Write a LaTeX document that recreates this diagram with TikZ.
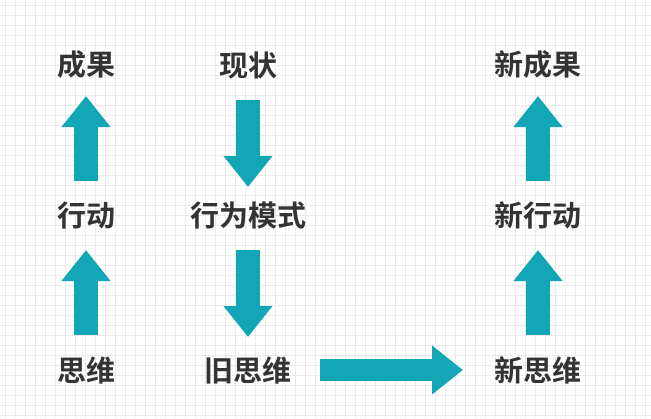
\documentclass[tikz,border=0pt]{standalone}
\usepackage{fontspec}
\newfontfamily\cjk{Noto Sans CJK SC}[BoldFont={Noto Sans CJK SC Bold}]
\usetikzlibrary{arrows.meta}
\definecolor{teal1}{HTML}{12A6B6}
\definecolor{txt}{HTML}{333333}
\definecolor{gridc}{HTML}{EAEAEA}
\tikzset{lbl/.style={font=\cjk\bfseries\fontsize{29}{29}\selectfont, text=txt, inner sep=0pt},
 bigarrow/.style={draw=teal1, line width=24pt, -{Triangle[width=47pt,length=31pt]}}}
\begin{document}
\begin{tikzpicture}[x=1pt,y=-1pt]
\useasboundingbox (0,0) rectangle (651,418);
\fill[white] (0,0) rectangle (651,418);
\foreach \i in {0,10,...,650} \draw[gridc, line width=0.5pt] (\i+5,0) -- (\i+5,418);
\foreach \j in {0,10,...,410} \draw[gridc, line width=0.5pt] (0,\j+5) -- (651,\j+5);
\node[lbl] (cg) at (86,65) {成果};
\node[lbl] (xz) at (248,65) {现状};
\node[lbl] (xcg) at (538,65) {新成果};
\node[lbl] (xd) at (86,215) {行动};
\node[lbl] (xwms) at (248,215) {行为模式};
\node[lbl] (xxd) at (538,215) {新行动};
\node[lbl] (sw) at (86,370) {思维};
\node[lbl] (jsw) at (248,370) {旧思维};
\node[lbl] (xsw) at (538,370) {新思维};
\coordinate (a1s) at (86,181); \coordinate (a1e) at (86,96);
\coordinate (a2s) at (86,335); \coordinate (a2e) at (86,250);
\coordinate (b1s) at (248,100); \coordinate (b1e) at (248,187);
\coordinate (b2s) at (248,250); \coordinate (b2e) at (248,337);
\coordinate (c1s) at (538,181); \coordinate (c1e) at (538,96);
\coordinate (c2s) at (538,335); \coordinate (c2e) at (538,250);
\coordinate (hs) at (320,370); \coordinate (he) at (463,370);
\draw[bigarrow] (a1s) -- (a1e);
\draw[bigarrow] (a2s) -- (a2e);
\draw[bigarrow] (b1s) -- (b1e);
\draw[bigarrow] (b2s) -- (b2e);
\draw[bigarrow] (c1s) -- (c1e);
\draw[bigarrow] (c2s) -- (c2e);
\draw[bigarrow, line width=22pt] (hs) -- (he);
\end{tikzpicture}
\end{document}
